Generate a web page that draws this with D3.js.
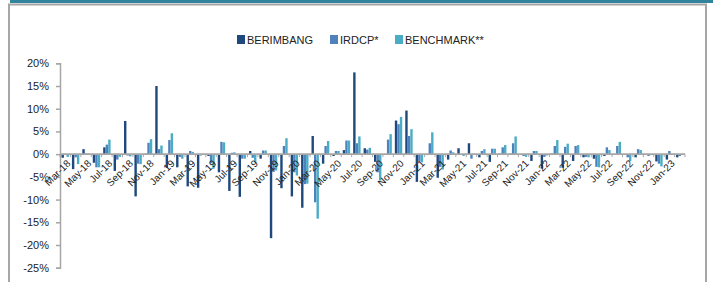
<!DOCTYPE html>
<html>
<head>
<meta charset="utf-8">
<script src="https://cdn.jsdelivr.net/npm/d3@7"></script>
<style>
  body { margin: 0; background: #fff; }
  svg { display: block; font-family: "Liberation Sans", Arial, sans-serif; }
</style>
</head>
<body>
<div id="chart"></div>
<script>

var months = ["Mar-18","Apr-18","May-18","Jun-18","Jul-18","Aug-18","Sep-18","Oct-18","Nov-18","Dec-18",
  "Jan-19","Feb-19","Mar-19","Apr-19","May-19","Jun-19","Jul-19","Aug-19","Sep-19","Oct-19","Nov-19","Dec-19",
  "Jan-20","Feb-20","Mar-20","Apr-20","May-20","Jun-20","Jul-20","Aug-20","Sep-20","Oct-20","Nov-20","Dec-20",
  "Jan-21","Feb-21","Mar-21","Apr-21","May-21","Jun-21","Jul-21","Aug-21","Sep-21","Oct-21","Nov-21","Dec-21",
  "Jan-22","Feb-22","Mar-22","Apr-22","May-22","Jun-22","Jul-22","Aug-22","Sep-22","Oct-22","Nov-22","Dec-22",
  "Jan-23","Feb-23"]

var berimbang = [-0.8,-3.3,1.1,-1.9,1.5,-3.7,7.3,-9.3,0.1,15.0,
  -3.0,-2.9,-7.1,-7.4,-0.4,-4.0,-8.1,-9.4,0.7,-1.0,-18.5,-7.5,
  -9.3,-11.8,4.0,-2.1,-0.4,0.9,18.0,1.3,-1.7,-0.1,7.4,9.6,
  -6.1,-0.2,-5.2,-1.2,1.3,2.4,-0.7,-1.7,0.1,0.1,0.0,-1.5,
  -3.2,0.1,-3.0,-1.5,-0.7,-1.0,-0.4,-0.1,0.0,-0.7,-0.1,-1.6,
  -1.2,-0.7]

var irdcp = [-0.2,-0.7,0.1,-2.9,2.1,-1.2,-0.3,-2.1,2.5,1.1,
  3.1,-0.6,0.7,-0.3,-2.0,2.7,0.3,-1.0,-0.8,0.8,-3.9,1.8,
  -4.0,-6.6,-10.6,1.8,0.7,3.0,2.4,1.0,-4.0,3.2,6.6,4.0,
  -1.5,2.4,-2.8,0.8,0.0,-1.0,0.7,1.2,1.5,2.4,-0.4,0.7,
  -0.6,1.8,1.6,1.8,-0.6,-2.8,1.5,1.8,-0.7,1.1,-0.4,-2.1,
  0.7,-0.4]

var benchmark = [-0.6,-2.2,0.1,-2.9,3.2,-0.6,-0.5,-2.2,3.3,1.9,
  4.6,-1.0,0.5,-0.1,-3.2,2.6,0.4,-1.0,-1.8,0.8,-3.6,3.5,
  -4.7,-6.5,-14.2,2.9,0.7,3.0,3.9,1.4,-5.8,4.4,8.2,5.5,
  -1.8,4.8,-3.4,0.4,-0.4,-0.1,1.1,1.2,2.0,3.9,-0.6,0.7,
  -0.3,3.1,2.3,2.0,-0.7,-2.9,0.9,2.7,-1.5,0.9,-0.2,-2.7,
  0.1,0.0]

var seriesNames = ["BERIMBANG", "IRDCP*", "BENCHMARK**"]
var seriesColors = ["#1F497D", "#4F81BD", "#4BACC6"]
var yTicks = [-25, -20, -15, -10, -5, 0, 5, 10, 15, 20]

var width = 713,
    height = 282

var svg = d3.select("#chart")
  .append("svg")
    .attr("width", width)
    .attr("height", height)

// frame
svg.append("rect")
  .attr("x", 9).attr("y", 4.5)
  .attr("width", 697).attr("height", 300)
  .attr("fill", "none")
  .attr("stroke", "#A6A6A6")
  .attr("stroke-width", 2)

svg.append("rect")
  .attr("x", 10).attr("y", 0)
  .attr("width", 703).attr("height", 3)
  .attr("fill", "#31849B")

var x0 = d3.scaleBand()
  .domain(months)
  .range([60, 685])
  .paddingInner(0.27)
  .paddingOuter(0.135)

var x1 = d3.scaleBand()
  .domain(seriesNames)
  .range([0, x0.bandwidth()])
  .padding(0.04)

var y = d3.scaleLinear()
  .domain([-25, 20])
  .range([267.7, 63.3])

var data = months.map(function(m, i) {
  return { month: m, values: [berimbang[i], irdcp[i], benchmark[i]] }
})

// y axis
var yAxis = svg.append("g")
  .attr("transform", "translate(60,0)")
  .call(d3.axisLeft(y).tickValues(yTicks).tickSize(4).tickPadding(7)
    .tickFormat(function(d) { return d + "%" }))

yAxis.select(".domain").attr("stroke", "#A6A6A6").attr("stroke-width", 1.5)
yAxis.selectAll(".tick line").attr("stroke", "#A6A6A6").attr("stroke-width", 1.5)
yAxis.selectAll(".tick text")
  .attr("font-size", 11)
  .attr("fill", "#222")
  .attr("font-family", "Liberation Sans, Arial, sans-serif")

// bars
var groups = svg.selectAll("g.grp")
  .data(data)
  .enter()
  .append("g")
    .attr("class", "grp")
    .attr("transform", function(d) { return "translate(" + x0(d.month) + ",0)" })

groups.selectAll("rect")
  .data(function(d) { return d.values.map(function(v, k) { return { key: seriesNames[k], value: v, k: k } }) })
  .enter()
  .append("rect")
    .attr("x", function(d) { return x1(d.key) })
    .attr("width", x1.bandwidth())
    .attr("y", function(d) { return y(Math.max(0, d.value)) })
    .attr("height", function(d) { return Math.abs(y(d.value) - y(0)) })
    .attr("fill", function(d) { return seriesColors[d.k] })

// zero axis with category ticks
var xAxis = svg.append("g")
  .attr("transform", "translate(0," + y(0) + ")")

xAxis.append("line")
  .attr("x1", 60).attr("x2", 685)
  .attr("stroke", "#A6A6A6")
  .attr("stroke-width", 1.8)

xAxis.selectAll("line.tk")
  .data(d3.range(months.length + 1))
  .enter()
  .append("line")
    .attr("class", "tk")
    .attr("x1", function(i) { return 60 + i * x0.step() })
    .attr("x2", function(i) { return 60 + i * x0.step() })
    .attr("y1", 0).attr("y2", 3)
    .attr("stroke", "#A6A6A6")

xAxis.selectAll("text")
  .data(months.filter(function(m, i) { return i % 2 == 0 }))
  .enter()
  .append("text")
    .attr("transform", function(d) {
      return "translate(" + (x0(d) + x0.bandwidth() / 2 + 1) + ",5) rotate(-45)"
    })
    .attr("text-anchor", "end")
    .attr("dy", "0.7em")
    .attr("font-size", 10)
    .attr("fill", "#222")
    .text(function(d) { return d })

// legend
var legendX = [237, 330, 395]
var legend = svg.selectAll("g.leg")
  .data(seriesNames)
  .enter()
  .append("g")
    .attr("class", "leg")
    .attr("transform", function(d, i) { return "translate(" + legendX[i] + ",35)" })

legend.append("rect")
  .attr("width", 8).attr("height", 9)
  .attr("fill", function(d, i) { return seriesColors[i] })

legend.append("text")
  .attr("x", 10).attr("y", 9)
  .attr("font-size", 11)
  .attr("fill", "#222")
  .text(function(d) { return d })

</script>
</body>
</html>
